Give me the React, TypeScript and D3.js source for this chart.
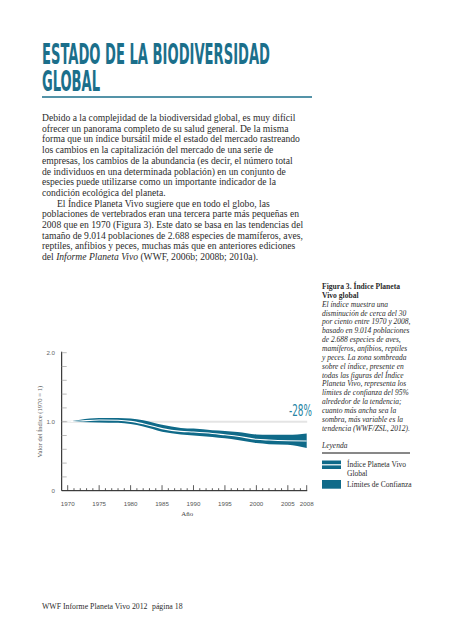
import React from "react";
import * as d3 from "d3";

const years = [1970, 1972, 1975, 1978, 1980, 1982, 1985, 1988, 1990, 1993, 1995, 1997, 2000, 2002, 2005, 2008];
const indexValues = [1.0, 1.01, 1.025, 1.02, 1.005, 0.97, 0.9, 0.86, 0.85, 0.83, 0.81, 0.79, 0.745, 0.735, 0.725, 0.72];
const upperValues = [1.0, 1.03, 1.055, 1.055, 1.045, 1.02, 0.955, 0.91, 0.9, 0.875, 0.865, 0.85, 0.815, 0.81, 0.81, 0.83];
const lowerValues = [1.0, 0.995, 0.99, 0.985, 0.965, 0.93, 0.855, 0.815, 0.8, 0.78, 0.76, 0.735, 0.69, 0.675, 0.665, 0.62];

const xTickLabels = [1970, 1975, 1980, 1985, 1990, 1995, 2000, 2005, 2008];
const yTickLabels = [0, 1, 2];
const yMinorTicks = [0.2, 0.4, 0.6, 0.8, 1.0, 1.2, 1.4, 1.6, 1.8, 2.0];

const titleLines = ["ESTADO DE LA BIODIVERSIDAD", "GLOBAL"];
const bodyLines = [
  "Debido a la complejidad de la biodiversidad global, es muy difícil",
  "ofrecer un panorama completo de su salud general. De la misma",
  "forma que un índice bursátil mide el estado del mercado rastreando",
  "los cambios en la capitalización del mercado de una serie de",
  "empresas, los cambios de la abundancia (es decir, el número total",
  "de individuos en una determinada población) en un conjunto de",
  "especies puede utilizarse como un importante indicador de la",
  "condición ecológica del planeta.",
  "El Índice Planeta Vivo sugiere que en todo el globo, las",
  "poblaciones de vertebrados eran una tercera parte más pequeñas en",
  "2008 que en 1970 (Figura 3). Este dato se basa en las tendencias del",
  "tamaño de 9.014 poblaciones de 2.688 especies de mamíferos, aves,",
  "reptiles, anfibios y peces, muchas más que en anteriores ediciones",
];
const captionBold = ["Figura 3. Índice Planeta", "Vivo global"];
const captionItalic = [
  "El índice muestra una",
  "disminución de cerca del 30",
  "por ciento entre 1970 y 2008,",
  "basado en 9.014 poblaciones",
  "de 2.688 especies de aves,",
  "mamíferos, anfibios, reptiles",
  "y peces. La zona sombreada",
  "sobre el índice, presente en",
  "todas las figuras del Índice",
  "Planeta Vivo, representa los",
  "límites de confianza del 95%",
  "alrededor de la tendencia;",
  "cuanto más ancha sea la",
  "sombra, más variable es la",
  "tendencia (WWF/ZSL, 2012).",
];

const TEAL = "#0f6a89";
const TITLE = "#1b6f8b";
const TEXT = "#2c2c2c";
const SERIF = "'Liberation Serif', 'DejaVu Serif', serif";
const SANS = "'Liberation Sans', Arial, sans-serif";

export default function App() {
  const x = d3.scaleLinear().domain([1970, 2008]).range([67.7, 306.7]);
  const y = d3.scaleLinear().domain([0, 2]).range([490.7, 352.7]);

  const band = d3
    .area<number>()
    .x((d, i) => x(years[i]))
    .y0((d, i) => y(lowerValues[i]))
    .y1((d, i) => y(upperValues[i]))
    .curve(d3.curveMonotoneX);
  const line = d3
    .line<number>()
    .x((d, i) => x(years[i]))
    .y((d, i) => y(indexValues[i]))
    .curve(d3.curveMonotoneX);

  const allYears = d3.range(1970, 2009);
  const axisX0 = 61.7;

  const bodyBase = 121;
  const bodyStep = 10.7;
  const capBase = 289;
  const capStep = 8.85;

  return (
    <svg width={473} height={640} style={{ position: "absolute", left: 0, top: 0, background: "#fff" }}>
      {/* Title */}
      {titleLines.map((t, i) => (
        <text
          key={t}
          x={42}
          y={64 + i * 27}
          fontFamily="'Liberation Sans Narrow', 'DejaVu Sans Condensed', sans-serif"
          fontWeight="bold"
          fontSize={29}
          fill={TITLE}
          textLength={i === 0 ? 228 : 58}
          lengthAdjust="spacingAndGlyphs"
        >
          {t}
        </text>
      ))}
      <line x1={42} x2={312} y1={97} y2={97} stroke={TITLE} strokeWidth={1.3} />

      {/* Body */}
      {bodyLines.map((t, i) => (
        <text key={i} x={i === 8 ? 57 : 42} y={bodyBase + i * bodyStep} fontFamily={SERIF} fontSize={9.6} fill={TEXT}>
          {t}
        </text>
      ))}
      <text x={42} y={bodyBase + 13 * bodyStep} fontFamily={SERIF} fontSize={9.6} fill={TEXT}>
        del <tspan fontStyle="italic">Informe Planeta Vivo</tspan> (WWF, 2006b; 2008b; 2010a).
      </text>

      {/* Caption */}
      {captionBold.map((t, i) => (
        <text key={t} x={322} y={capBase + i * capStep} fontFamily={SERIF} fontWeight="bold" fontSize={7.6} fill={TEXT}>
          {t}
        </text>
      ))}
      {captionItalic.map((t, i) => (
        <text key={t} x={322} y={capBase + (i + 2) * capStep} fontFamily={SERIF} fontStyle="italic" fontSize={7.5} fill={TEXT}>
          {t}
        </text>
      ))}

      {/* Legend */}
      <text x={322} y={447.5} fontFamily={SERIF} fontStyle="italic" fontSize={7.5} fill={TEXT}>
        Leyenda
      </text>
      <line x1={322} x2={410} y1={453} y2={453} stroke="#111" strokeWidth={1} />
      <rect x={322} y={460.5} width={19} height={8.5} fill={TEAL} />
      <line x1={322} x2={341} y1={464.8} y2={464.8} stroke="#fff" strokeWidth={1.2} />
      <text x={347} y={467} fontFamily={SERIF} fontSize={7.5} fill={TEXT}>
        Índice Planeta Vivo
      </text>
      <text x={347} y={475.5} fontFamily={SERIF} fontSize={7.5} fill={TEXT}>
        Global
      </text>
      <rect x={322} y={480} width={19} height={8.7} fill={TEAL} />
      <text x={347} y={486.5} fontFamily={SERIF} fontSize={7.5} fill={TEXT}>
        Límites de Confianza
      </text>

      {/* Chart */}
      <line x1={axisX0} x2={x(2008) + 0.5} y1={y(1)} y2={y(1)} stroke="#e4e4e4" strokeWidth={2} />
      <path d={band(years) ?? ""} fill={TEAL} />
      <path d={line(years) ?? ""} fill="none" stroke="#fff" strokeWidth={1.1} />

      {/* y axis */}
      <line x1={axisX0} x2={axisX0} y1={y(2) - 1} y2={y(0)} stroke="#111" strokeWidth={1} />
      {yMinorTicks.map((v) => (
        <line key={v} x1={axisX0} x2={axisX0 + 5} y1={y(v)} y2={y(v)} stroke="#aaa" strokeWidth={0.8} />
      ))}
      {yTickLabels.map((v) => (
        <text key={v} x={55} y={y(v) + 2.3} textAnchor="end" fontFamily={SANS} fontSize={6.2} fill="#666">
          {v === 0 ? "0" : d3.format(".1f")(v)}
        </text>
      ))}
      <text
        transform={`translate(41.5, ${(y(0) + y(2)) / 2}) rotate(-90)`}
        textAnchor="middle"
        fontFamily={SERIF}
        fontSize={6.6}
        fill="#555"
      >
        Valor del Índice (1970 = 1)
      </text>

      {/* x axis */}
      <line x1={axisX0} x2={x(2008) + 0.5} y1={y(0)} y2={y(0)} stroke="#111" strokeWidth={1} />
      {allYears.map((yr) => {
        const major = xTickLabels.includes(yr);
        return (
          <line
            key={yr}
            x1={x(yr)}
            x2={x(yr)}
            y1={y(0)}
            y2={y(0) - (major ? 5.5 : 2.5)}
            stroke="#333"
            strokeWidth={0.8}
          />
        );
      })}
      {xTickLabels.map((yr) => (
        <text key={yr} x={x(yr)} y={506} textAnchor="middle" fontFamily={SANS} fontSize={6.2} fill="#555">
          {yr}
        </text>
      ))}
      <text x={(x(1970) + x(2008)) / 2} y={515.5} textAnchor="middle" fontFamily={SERIF} fontSize={6.8} fill="#444">
        Año
      </text>

      {/* -28% */}
      <text
        x={312}
        y={416}
        textAnchor="end"
        fontFamily="'Liberation Sans Narrow', 'DejaVu Sans Condensed', sans-serif"
        fontSize={15}
        fill="#2483a3"
        textLength={23}
        lengthAdjust="spacingAndGlyphs"
      >
        -28%
      </text>

      {/* Footer */}
      <text x={42} y={609} fontFamily={SERIF} fontSize={7.8} fill={TEXT}>
        WWF Informe Planeta Vivo 2012
      </text>
      <text x={152} y={609} fontFamily={SERIF} fontSize={7.8} fill={TEXT}>
        página 18
      </text>
    </svg>
  );
}
